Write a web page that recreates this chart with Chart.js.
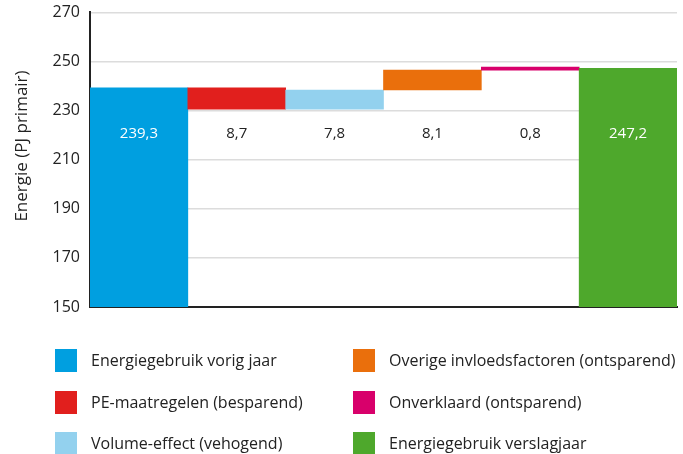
<!DOCTYPE html>
<html>
<head>
<meta charset="utf-8">
<script src="https://cdn.jsdelivr.net/npm/chart.js@4/dist/chart.umd.min.js"></script>
<style>
  html, body { margin: 0; padding: 0; background: #fff; }
  #wrap { position: relative; width: 683px; height: 454px; }
  canvas { position: absolute; left: 0; top: 0; }
  .lg { position: absolute; font-family: "Open Sans", sans-serif; font-size: 16px; color: #222; line-height: 23px; white-space: nowrap; }
  .lg span.sw { position: absolute; left: 0; top: 0; width: 22px; height: 23px; }
  .lg span.tx { position: absolute; left: 36px; top: 0px; }
</style>
</head>
<body>
<div id="wrap">
  <canvas id="c" width="683" height="454"></canvas>
  <div id="legend"></div>
</div>
<script>
const categories = [
  'Energiegebruik vorig jaar',
  'PE-maatregelen (besparend)',
  'Volume-effect (vehogend)',
  'Overige invloedsfactoren (ontsparend)',
  'Onverklaard (ontsparend)',
  'Energiegebruik verslagjaar'
];
const barStarts = [150, 230.6, 230.6, 238.4, 246.5, 150];
const barEnds   = [239.3, 239.3, 238.4, 246.5, 247.3, 247.2];
const valueLabels = ['239,3', '8,7', '7,8', '8,1', '0,8', '247,2'];
const yTicks = [150, 170, 190, 210, 230, 250, 270];
const colors = ['#009fe0', '#e11f1d', '#93d1ee', '#ea6f0c', '#d8006b', '#4ea82c'];
const labelColors = ['#ffffff', '#222222', '#222222', '#222222', '#222222', '#ffffff'];
const labelValue = 220.5;
const yTitle = 'Energie (PJ primair)';

const valueLabelPlugin = {
  id: 'valueLabels',
  afterDatasetsDraw(chart) {
    const ctx = chart.ctx;
    const meta = chart.getDatasetMeta(0);
    const yScale = chart.scales.y;
    ctx.save();
    ctx.font = '15px "Open Sans", sans-serif';
    ctx.textAlign = 'center';
    ctx.textBaseline = 'middle';
    meta.data.forEach((bar, i) => {
      ctx.fillStyle = labelColors[i];
      ctx.fillText(valueLabels[i], bar.x, yScale.getPixelForValue(labelValue));
    });
    // y-axis title
    ctx.save();
    ctx.translate(22, 146);
    ctx.rotate(-Math.PI / 2);
    ctx.fillStyle = '#222';
    ctx.font = '17px "Open Sans", sans-serif';
    ctx.fillText(yTitle, 0, 0);
    ctx.restore();
    ctx.restore();
  }
};

new Chart(document.getElementById('c'), {
  type: 'bar',
  data: {
    labels: categories,
    datasets: [{
      data: categories.map((c, i) => [barStarts[i], barEnds[i]]),
      backgroundColor: colors,
      borderWidth: 0,
      barPercentage: 1,
      categoryPercentage: 1,
      minBarLength: 3
    }]
  },
  options: {
    responsive: false,
    animation: false,
    layout: { padding: { left: 0, right: 6, top: 0, bottom: 147 } },
    plugins: { legend: { display: false }, tooltip: { enabled: false } },
    scales: {
      x: {
        ticks: { display: false },
        grid: { display: false, drawTicks: false },
        border: { display: true, color: '#222', width: 2 }
      },
      y: {
        min: 150, max: 270,
        afterBuildTicks(scale) { scale.ticks = yTicks.map(v => ({ value: v })); },
        afterFit(scale) { scale.width = 90; },
        ticks: {
          color: '#222',
          padding: 10,
          font: { family: 'Open Sans', size: 16, lineHeight: 0.3 },
          callback: v => String(v)
        },
        grid: { color: '#dcdcdc', lineWidth: 1.5, drawTicks: false },
        border: { display: true, color: '#222', width: 2 },
        title: { display: false }
      }
    }
  },
  plugins: [valueLabelPlugin]
});

// HTML legend
const legendPos = [
  [55, 349], [55, 391], [55, 432],
  [353, 349], [353, 391], [353, 432]
];
const lg = document.getElementById('legend');
categories.forEach((c, i) => {
  const d = document.createElement('div');
  d.className = 'lg';
  d.style.left = legendPos[i][0] + 'px';
  d.style.top = legendPos[i][1] + 'px';
  d.innerHTML = '<span class="sw" style="background:' + colors[i] + '"></span><span class="tx"></span>';
  d.querySelector('.tx').textContent = c;
  lg.appendChild(d);
});
</script>
</body>
</html>
